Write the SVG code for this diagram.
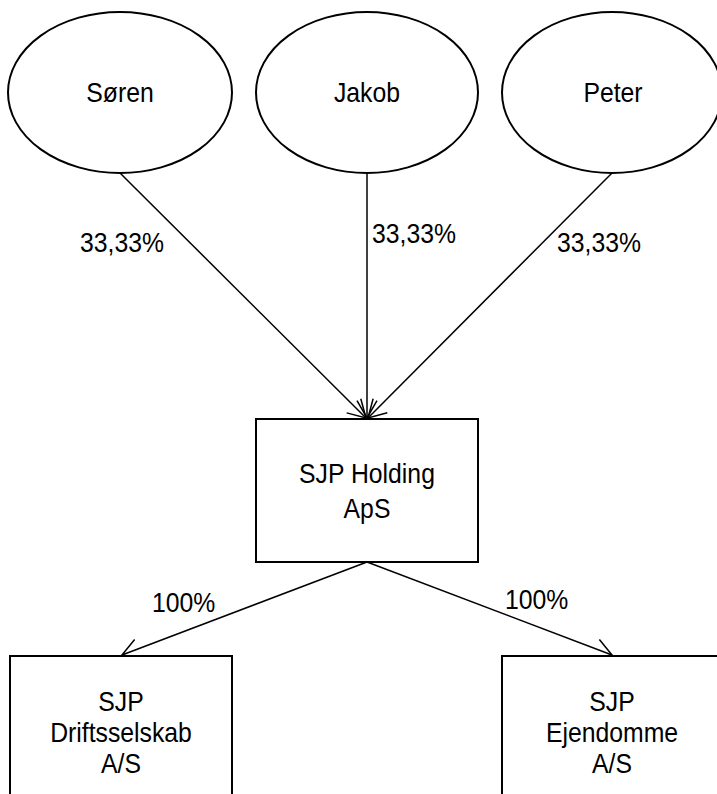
<svg xmlns="http://www.w3.org/2000/svg" width="717" height="794" viewBox="0 0 717 794">
  <style>
    .shape { fill: #ffffff; stroke: #000000; stroke-width: 2; }
    .conn { fill: none; stroke: #000000; stroke-width: 1.5; marker-end: url(#open-arrow); }
    /* condensed look: regular sans squeezed horizontally via scale() on each label */
    text { font-family: "Liberation Sans", Arial, sans-serif; font-size: 28px; fill: #000000; }
    .c { text-anchor: middle; }
  </style>
  <defs>
    <marker id="open-arrow" markerUnits="userSpaceOnUse" markerWidth="24" markerHeight="24" viewBox="-20 -12 22 24" refX="0" refY="0" orient="auto">
      <path d="M-17.3,-10 L0,0 L-17.3,10" fill="none" stroke="#000000" stroke-width="1.5"/>
    </marker>
  </defs>

  <g id="connectors">
    <line class="conn" x1="120" y1="173" x2="366" y2="418"/>
    <line class="conn" x1="367" y1="173" x2="367" y2="418"/>
    <line class="conn" x1="612" y1="173" x2="368" y2="418"/>
    <line class="conn" x1="367" y1="562" x2="122" y2="655"/>
    <line class="conn" x1="367" y1="562" x2="612" y2="655"/>
    <text transform="translate(80,252) scale(0.885,1)">33,33%</text>
    <text transform="translate(372,243) scale(0.885,1)">33,33%</text>
    <text transform="translate(557,252) scale(0.885,1)">33,33%</text>
    <text transform="translate(152,612) scale(0.885,1)">100%</text>
    <text transform="translate(505,609) scale(0.885,1)">100%</text>
  </g>

  <g id="soren">
    <ellipse class="shape" cx="120" cy="92.5" rx="112" ry="80.5"/>
    <text class="c" transform="translate(120,102) scale(0.885,1)">Søren</text>
  </g>
  <g id="jakob">
    <ellipse class="shape" cx="367" cy="92.5" rx="111" ry="80.5"/>
    <text class="c" transform="translate(367,102) scale(0.885,1)">Jakob</text>
  </g>
  <g id="peter">
    <ellipse class="shape" cx="612" cy="92.5" rx="110" ry="80.5"/>
    <text class="c" transform="translate(613,102) scale(0.885,1)">Peter</text>
  </g>

  <g id="holding">
    <rect class="shape" x="256" y="419" width="222" height="143"/>
    <text class="c" transform="translate(367,483) scale(0.885,1)">SJP Holding</text>
    <text class="c" transform="translate(367,518) scale(0.885,1)">ApS</text>
  </g>

  <g id="drift">
    <rect class="shape" x="10" y="656" width="222" height="160"/>
    <text class="c" transform="translate(121,711) scale(0.885,1)">SJP</text>
    <text class="c" transform="translate(121,742) scale(0.885,1)">Driftsselskab</text>
    <text class="c" transform="translate(121,773) scale(0.885,1)">A/S</text>
  </g>

  <g id="ejendomme">
    <rect class="shape" x="502" y="656" width="222" height="160"/>
    <text class="c" transform="translate(612,711) scale(0.885,1)">SJP</text>
    <text class="c" transform="translate(612,742) scale(0.885,1)">Ejendomme</text>
    <text class="c" transform="translate(612,773) scale(0.885,1)">A/S</text>
  </g>
</svg>
